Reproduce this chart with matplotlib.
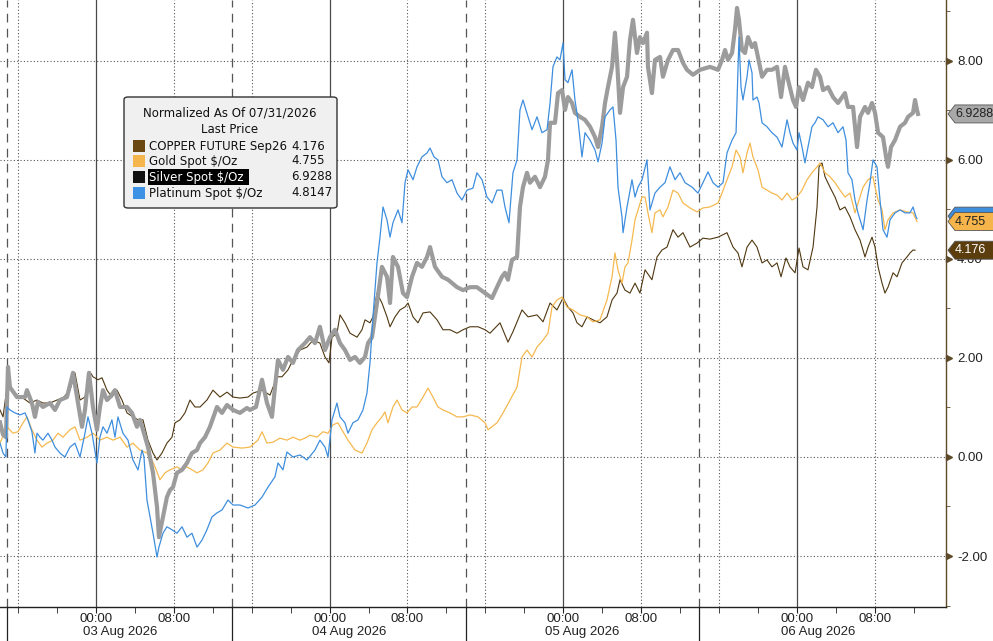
import matplotlib
matplotlib.use("Agg")
import matplotlib.pyplot as plt
import matplotlib.transforms as mtransforms
from matplotlib.patches import Polygon, FancyBboxPatch, Rectangle

# hours since 03 Aug 2026 00:00, values normalized as of 07/31/2026
copper_hours = [-9.86, -9.55, -9.14, -8.63, -8.12, -7.50, -6.78, -6.06, -5.45, -4.73, -4.01, -3.39, -2.67, -2.16,
                -1.64, -1.13, -0.62, -0.31, 0.21, 0.62, 1.13, 1.64, 2.16, 2.67, 3.19, 3.80, 4.32, 4.83, 5.34, 5.86,
                6.27, 6.78, 7.29, 7.81, 8.12, 8.63, 9.14, 9.66, 10.17, 10.69, 11.40, 12.02, 12.74, 13.46, 14.08,
                14.79, 15.62, 16.13, 17.06, 17.88, 18.60, 19.11, 19.73, 20.24, 20.96, 21.68, 22.30, 23.01, 23.53,
                23.94, 24.25, 24.76, 25.07, 25.58, 26.10, 26.82, 27.33, 27.64, 28.15, 28.46, 28.87, 29.38, 29.90,
                30.21, 30.72, 31.23, 31.75, 32.06, 32.57, 33.08, 33.60, 34.32, 35.04, 35.65, 36.37, 37.09, 37.71,
                38.43, 39.25, 39.97, 40.48, 41.51, 42.33, 42.84, 43.77, 44.39, 45.31, 45.93, 46.65, 47.36, 47.98,
                48.49, 49.01, 49.42, 49.93, 50.45, 51.06, 51.78, 52.50, 53.02, 53.53, 53.84, 54.35, 54.86, 55.38,
                55.89, 56.41, 57.12, 57.64, 58.15, 58.67, 59.28, 59.80, 60.31, 61.03, 61.75, 62.36, 63.08, 63.91,
                64.83, 65.45, 65.96, 66.37, 66.89, 67.40, 67.91, 68.43, 68.94, 69.45, 69.97, 70.38, 70.89, 71.30,
                71.82, 72.23, 72.64, 73.15, 73.67, 74.08, 74.28, 74.59, 74.90, 75.41, 75.93, 76.44, 76.95, 77.47,
                77.98, 78.50, 79.01, 79.32, 79.73, 80.04, 80.35, 80.76, 81.06, 81.37, 81.89, 82.30, 82.81, 83.32,
                83.63, 83.94, 84.15]
copper_vals = [0.95, 0.81, 1.41, 1.35, 1.25, 1.19, 1.09, 1.15, 1.09, 1.09, 1.15, 1.19, 1.35, 1.70,
               1.15, 1.21, 1.72, 1.62, 1.56, 1.60, 1.35, 1.21, 1.35, 1.15, 0.89, 0.81, 0.75, 0.75, 0.34, 0.08,
               -0.06, 0.08, 0.28, 0.40, 0.69, 0.75, 0.89, 1.15, 1.01, 1.01, 1.15, 1.35, 1.21, 1.31, 1.21,
               1.19, 1.21, 1.29, 1.35, 1.25, 1.62, 1.62, 1.76, 1.96, 2.16, 2.22, 2.36, 2.30, 2.02,
               1.90, 2.42, 2.50, 2.87, 2.71, 2.50, 2.42, 2.57, 2.77, 2.71, 2.83, 3.31, 3.11, 2.83,
               2.63, 2.83, 2.97, 3.03, 3.11, 2.83, 2.71, 2.91, 2.93, 2.77, 2.57, 2.57, 2.50, 2.57,
               2.63, 2.63, 2.57, 2.50, 2.71, 2.32, 2.53, 2.97, 2.83, 2.87, 2.73, 3.11, 2.97, 3.21,
               3.03, 2.91, 2.71, 2.63, 2.83, 2.77, 2.71, 2.83, 3.17, 3.31, 3.58, 3.37, 3.31, 3.51,
               3.31, 3.78, 3.58, 4.04, 4.18, 4.24, 4.59, 4.44, 4.53, 4.24, 4.32, 4.42, 4.40, 4.44,
               4.53, 4.24, 4.12, 3.84, 4.24, 4.38, 4.24, 3.92, 3.98, 3.84, 3.92, 3.64, 4.02, 3.84,
               3.72, 4.22, 3.84, 3.78, 4.24, 5.05, 5.86, 5.94, 5.66, 5.45, 5.25, 4.99, 5.05, 4.85,
               4.59, 4.38, 4.04, 4.24, 4.44, 4.24, 3.84, 3.51, 3.31, 3.43, 3.72, 3.64, 3.92, 4.04,
               4.12, 4.18, 4.176]

gold_hours = [-9.86, -9.14, -8.53, -8.01, -7.50, -7.09, -6.58, -6.06, -5.55, -5.03, -4.42, -3.90, -3.39, -2.67,
              -2.16, -1.64, -0.92, -0.31, 0.41, 1.13, 1.75, 2.47, 3.19, 3.80, 4.52, 5.24, 5.75, 6.06, 6.58, 7.09,
              7.60, 8.32, 8.84, 9.35, 9.86, 10.38, 10.99, 11.51, 12.02, 12.74, 13.46, 14.08, 15.00, 15.82, 16.64,
              17.06, 17.57, 18.19, 18.90, 19.62, 20.24, 20.96, 21.47, 21.99, 22.71, 23.32, 23.84, 24.35, 24.86,
              25.38, 25.89, 26.61, 27.33, 27.84, 28.36, 28.87, 29.38, 29.69, 30.00, 30.51, 30.93, 31.44, 31.95,
              32.47, 32.98, 33.60, 34.11, 34.62, 35.14, 35.65, 36.37, 37.09, 37.71, 38.43, 39.25, 39.97, 40.28,
              41.20, 41.82, 42.54, 43.26, 43.77, 44.28, 44.80, 45.31, 45.93, 46.44, 46.85, 47.36, 47.88, 48.39,
              49.01, 49.73, 50.45, 51.06, 51.78, 52.50, 53.02, 53.32, 53.63, 54.04, 54.35, 54.66, 55.07, 55.38,
              55.69, 56.10, 56.41, 56.71, 57.12, 57.43, 57.95, 58.25, 58.77, 59.28, 59.80, 60.31, 61.03, 61.75,
              62.36, 63.08, 63.91, 64.32, 64.83, 65.35, 65.76, 66.17, 66.47, 66.89, 67.19, 67.50, 68.01, 68.43,
              68.94, 69.45, 69.97, 70.48, 71.00, 71.51, 72.02, 72.54, 73.05, 73.56, 74.08, 74.39, 74.90, 75.41,
              75.93, 76.44, 76.95, 77.47, 77.98, 78.39, 78.81, 79.32, 79.83, 80.04, 80.35, 80.76, 81.06, 81.37,
              81.89, 82.61, 83.32, 83.94, 84.35]
gold_vals = [0.28, 0.61, 0.48, 0.51, 0.69, 0.81, 0.55, 0.34, 0.20, 0.28, 0.34, 0.48, 0.40, 0.55,
             0.61, 0.34, 0.40, 0.48, 0.34, 0.40, 0.34, 0.40, 0.20, 0.28, 0.14, 0.08, -0.06, -0.20, -0.46, -0.32,
             -0.26, -0.20, -0.26, -0.20, -0.26, -0.32, -0.26, -0.12, 0.08, 0.14, 0.28, 0.20, 0.18, 0.20, 0.34,
             0.51, 0.28, 0.30, 0.38, 0.34, 0.40, 0.34, 0.38, 0.44, 0.40, 0.51, 0.48, 0.65, 0.69,
             0.51, 0.34, 0.14, 0.08, 0.28, 0.55, 0.69, 0.81, 0.91, 0.69, 1.01, 1.15, 0.95, 0.89,
             1.01, 1.01, 1.21, 1.39, 1.21, 1.01, 0.95, 0.89, 0.81, 0.81, 0.85, 0.81, 0.69, 0.55,
             0.69, 0.89, 1.15, 1.41, 2.02, 2.16, 2.02, 2.22, 2.36, 2.50, 3.03, 3.17, 3.23, 3.03,
             2.97, 2.87, 2.83, 2.73, 2.77, 3.17, 3.64, 4.12, 3.78, 3.51, 3.84, 3.92, 4.38, 4.79,
             4.99, 5.25, 5.25, 4.93, 4.53, 4.93, 4.99, 4.85, 5.05, 5.39, 5.33, 5.13, 5.03, 4.95,
             5.03, 5.05, 5.13, 5.33, 5.60, 5.86, 6.20, 6.06, 5.74, 6.14, 6.34, 6.06, 5.80, 5.45,
             5.39, 5.33, 5.29, 5.19, 5.33, 5.19, 5.25, 5.39, 5.60, 5.74, 5.86, 5.94, 5.74, 5.66,
             5.54, 5.39, 5.25, 5.33, 4.93, 5.19, 5.45, 5.60, 5.66, 5.45, 5.19, 4.99, 4.59, 4.79,
             4.93, 4.99, 4.95, 4.93, 4.755]

silver_hours = [-9.86, -9.55, -9.25, -9.04, -8.84, -8.12, -7.29, -7.09, -6.58, -6.27, -5.96, -5.45, -4.73, -4.21,
                -3.70, -2.98, -2.36, -1.95, -1.44, -1.13, -0.72, -0.31, 0.10, 0.41, 0.72, 1.13, 1.44, 1.95, 2.47,
                3.19, 3.70, 4.21, 4.52, 4.83, 5.34, 5.86, 6.27, 6.47, 6.88, 7.29, 7.60, 7.91, 8.32, 8.84, 9.35,
                9.86, 10.38, 10.69, 11.20, 11.71, 12.43, 12.95, 13.46, 14.08, 14.79, 15.51, 15.82, 16.44, 17.06,
                17.57, 18.08, 18.39, 18.70, 19.21, 19.73, 20.24, 20.75, 21.47, 21.99, 22.50, 23.01, 23.53, 24.04,
                24.56, 25.07, 25.58, 26.10, 26.61, 27.12, 27.64, 27.95, 28.36, 28.87, 29.38, 29.90, 30.21, 30.51,
                31.03, 31.54, 31.95, 32.47, 32.98, 33.49, 34.01, 34.32, 34.83, 35.55, 36.17, 37.09, 37.71, 38.43,
                39.14, 39.97, 40.69, 41.20, 41.71, 42.02, 42.33, 42.74, 43.26, 43.56, 43.87, 44.28, 44.59, 45.10,
                45.62, 46.13, 46.44, 46.65, 47.16, 47.47, 47.88, 48.19, 48.49, 48.91, 49.21, 49.73, 50.24, 50.76,
                51.27, 51.58, 51.99, 52.30, 52.60, 53.02, 53.32, 53.53, 53.84, 54.15, 54.56, 54.86, 55.17, 55.38,
                55.58, 55.89, 56.20, 56.61, 56.71, 57.12, 57.43, 57.95, 58.25, 58.77, 59.28, 59.80, 60.31, 60.72,
                61.34, 62.06, 63.08, 63.91, 64.32, 64.63, 64.93, 65.35, 65.65, 65.86, 66.06, 66.37, 66.68, 66.99,
                67.40, 67.71, 68.01, 68.43, 68.94, 69.45, 69.97, 70.38, 70.79, 71.10, 71.61, 71.92, 72.23, 72.64,
                73.15, 73.56, 73.97, 74.39, 74.70, 75.21, 75.72, 76.24, 76.95, 77.26, 77.78, 78.19, 78.50, 79.01,
                79.32, 79.73, 80.04, 80.35, 80.86, 81.17, 81.37, 81.68, 82.09, 82.61, 83.12, 83.43, 83.94, 84.15,
                84.35, 84.45]
silver_vals = [0.70, 0.45, 0.40, 1.82, 1.41, 1.21, 1.21, 1.35, 1.09, 0.81, 1.11, 1.01, 1.09, 0.95,
               1.15, 1.21, 1.70, 1.21, 0.61, 0.95, 1.70, 1.01, 0.55, 1.01, 1.35, 1.15, 1.21, 1.35, 1.01,
               1.01, 0.89, 0.61, 0.75, 0.55, 0.20, -0.32, -1.01, -1.62, -1.21, -0.81, -0.67, -0.61, -0.32, -0.26, -0.12,
               0.08, 0.14, 0.28, 0.40, 0.61, 1.01, 0.89, 1.05, 0.95, 0.89, 0.99, 0.95, 1.01, 1.56,
               1.09, 0.81, 1.41, 1.96, 1.76, 2.02, 1.90, 2.16, 2.30, 2.42, 2.30, 2.63, 2.16, 2.42,
               2.57, 2.30, 2.16, 1.96, 2.02, 1.90, 2.02, 2.30, 2.42, 3.11, 3.84, 3.64, 3.11, 4.04,
               3.84, 3.31, 3.23, 3.64, 3.92, 3.84, 4.04, 4.24, 3.84, 3.64, 3.58, 3.43, 3.37, 3.43,
               3.43, 3.31, 3.21, 3.43, 3.64, 3.72, 3.58, 3.98, 4.04, 5.05, 5.45, 5.74, 5.54, 5.66,
               5.45, 5.66, 6.00, 6.75, 6.75, 7.35, 7.41, 7.01, 7.27, 7.15, 6.95, 6.87, 6.81, 6.67,
               6.46, 6.26, 6.67, 7.15, 7.47, 7.88, 8.57, 8.02, 6.95, 7.47, 7.68, 8.42, 8.83, 8.48,
               8.16, 8.48, 8.36, 8.57, 7.88, 7.35, 8.02, 8.08, 7.68, 8.02, 8.22, 8.22, 7.96, 7.82,
               7.72, 7.82, 7.88, 7.82, 8.02, 8.22, 8.02, 8.16, 8.63, 9.07, 8.83, 8.22, 8.16, 8.48,
               8.28, 8.36, 8.08, 7.68, 7.82, 7.82, 7.88, 7.27, 7.88, 7.62, 7.21, 7.07, 7.47, 7.21,
               7.56, 7.47, 7.82, 7.68, 7.41, 7.47, 7.27, 7.15, 7.35, 7.07, 7.07, 6.26, 6.87, 7.07,
               6.95, 7.15, 6.95, 6.55, 6.46, 6.06, 5.86, 6.26, 6.40, 6.67, 6.75, 6.87, 6.95, 7.21,
               7.01, 6.9288]

platinum_hours = [-9.86, -9.55, -9.25, -9.14, -8.84, -8.32, -7.81, -7.29, -6.99, -6.58, -6.27, -6.06, -5.75, -5.45,
                  -4.93, -4.52, -4.21, -3.70, -3.19, -2.67, -2.16, -1.64, -1.13, -0.82, -0.41, 0.10, 0.41, 0.72,
                  1.13, 1.64, 1.95, 2.26, 2.77, 3.29, 3.80, 4.32, 4.73, 4.93, 5.24, 5.55, 5.86, 6.27, 6.47, 6.88,
                  7.29, 7.81, 8.32, 8.84, 9.35, 9.86, 10.38, 10.89, 11.40, 11.92, 12.43, 12.95, 13.56, 14.08,
                  14.79, 15.62, 16.34, 17.06, 17.67, 18.39, 18.70, 19.21, 19.62, 20.24, 20.96, 21.68, 22.50, 23.01,
                  23.53, 23.84, 24.25, 24.76, 25.07, 25.58, 25.89, 26.40, 26.92, 27.43, 27.84, 28.15, 28.46, 28.87,
                  29.18, 29.49, 29.90, 30.21, 30.51, 31.03, 31.44, 31.75, 32.06, 32.57, 32.98, 33.49, 34.01, 34.32,
                  34.73, 35.14, 35.55, 36.06, 36.58, 37.09, 37.60, 38.12, 38.73, 39.14, 39.66, 40.17, 40.69, 41.20,
                  41.71, 42.02, 42.43, 42.84, 43.26, 43.56, 43.87, 44.39, 44.80, 45.31, 45.82, 46.34, 46.65, 46.95,
                  47.36, 47.67, 47.98, 48.19, 48.49, 48.91, 49.21, 49.52, 49.93, 50.24, 50.76, 51.27, 51.58, 51.99,
                  52.30, 52.81, 53.12, 53.43, 53.63, 54.04, 54.15, 54.56, 55.07, 55.38, 55.69, 56.10, 56.61, 56.92,
                  57.43, 57.95, 58.46, 58.97, 59.49, 60.00, 60.52, 61.24, 61.85, 62.36, 62.88, 63.39, 63.91, 64.42,
                  64.83, 65.35, 65.76, 65.96, 66.06, 66.27, 66.47, 66.89, 67.09, 67.40, 67.50, 67.91, 68.12, 68.43,
                  68.94, 69.45, 69.97, 70.48, 71.00, 71.30, 71.61, 72.02, 72.23, 72.54, 72.84, 73.15, 73.56, 73.87,
                  74.18, 74.70, 75.21, 75.72, 76.24, 76.75, 77.06, 77.26, 77.67, 77.98, 78.29, 78.81, 79.22, 79.52,
                  79.83, 80.24, 80.55, 80.86, 81.27, 81.58, 82.09, 82.61, 83.12, 83.63, 83.94, 84.25, 84.35]
platinum_vals = [0.28, 0.08, 0.00, 1.01, 0.95, 0.89, 0.85, 0.89, 0.75, 0.51, 0.08, 0.48, 0.40, 0.34,
                 0.48, 0.34, 0.20, 0.08, 0.00, 0.20, 0.28, 0.00, 0.48, 0.81, 0.48, -0.12, 0.40, 0.61,
                 0.48, 0.75, 0.40, 0.81, 0.48, 0.34, -0.06, -0.26, 0.14, 0.00, -0.87, -1.21, -1.54, -2.02, -1.82, -1.54,
                 -1.41, -1.47, -1.54, -1.41, -1.62, -1.54, -1.82, -1.68, -1.47, -1.21, -1.13, -1.07, -0.87, -0.97,
                 -0.97, -1.03, -0.97, -0.81, -0.61, -0.40, -0.12, -0.26, 0.10, 0.00, 0.04, -0.06, 0.14, 0.34,
                 0.20, 0.00, 0.75, 1.09, 0.81, 0.69, 0.48, 0.69, 0.75, 0.95, 1.29, 1.90, 2.83, 3.92,
                 4.44, 5.05, 4.79, 4.44, 4.73, 4.99, 4.73, 5.54, 5.80, 5.60, 5.86, 6.06, 6.14, 6.24,
                 6.06, 6.00, 5.66, 5.54, 5.60, 5.33, 5.19, 5.39, 5.43, 5.74, 5.60, 5.25, 5.13, 5.39,
                 5.39, 5.05, 4.73, 5.74, 6.00, 7.01, 7.21, 6.87, 6.61, 6.87, 6.55, 6.61, 7.15, 7.88,
                 8.08, 8.02, 8.36, 7.62, 7.56, 7.82, 7.21, 6.81, 6.06, 6.55, 6.40, 6.20, 5.96, 6.34,
                 6.87, 7.01, 7.07, 6.40, 5.45, 4.85, 4.53, 5.05, 5.60, 5.25, 5.45, 5.60, 6.00, 4.99,
                 5.33, 5.45, 5.54, 5.86, 5.60, 5.74, 5.54, 5.45, 5.33, 5.54, 5.76, 5.54, 5.45, 5.54,
                 6.14, 6.40, 6.55, 7.88, 8.48, 7.47, 7.21, 7.68, 8.02, 7.76, 7.21, 7.27, 7.15, 6.75,
                 6.67, 6.55, 6.46, 6.26, 6.81, 6.55, 6.34, 6.20, 6.55, 6.26, 5.94, 6.26, 6.67, 6.75,
                 6.87, 6.81, 6.67, 6.75, 6.55, 6.67, 6.40, 5.74, 5.60, 5.19, 4.93, 4.59, 5.19, 5.54,
                 6.00, 5.86, 5.19, 4.59, 4.44, 4.79, 4.93, 4.99, 4.93, 4.93, 5.05, 4.85, 4.8147]

series_names = ["COPPER FUTURE Sep26", "Gold Spot $/Oz", "Silver Spot $/Oz", "Platinum Spot $/Oz"]
last_prices = ["4.176", "4.755", "6.9288", "4.8147"]
colors = ["#4f3710", "#f5b94f", "#9c9c9c", "#3e8ede"]
legend_colors = ["#6b4712", "#f5b64e", "#111111", "#3e92e6"]

ytick_vals = [-2, 0, 2, 4, 6, 8]
day_labels = ["03 Aug 2026", "04 Aug 2026", "05 Aug 2026", "06 Aug 2026"]
session_breaks = [-9.1, 14.0, 38.0, 62.0, 86.5]

AXFONT = "Liberation Sans"
W, H = 993, 641
fig = plt.figure(figsize=(W / 100, H / 100), dpi=100)
ax = fig.add_axes([0, (H - 607) / H, 946 / W, 607 / H])
ax.set_xlim(-9.86, 87.33)
ax.set_ylim(-3.03, 9.23)

grid_c = "#555555"
for v in ytick_vals:
    ax.axhline(v, color=grid_c, lw=0.8, ls=(0, (1, 2)), zorder=1)
for h in range(-8, 88, 8):
    if h % 24 == 0:
        ax.axvline(h, color="#4a4a4a", lw=0.9, zorder=1)
    else:
        ax.axvline(h, color=grid_c, lw=0.8, ls=(0, (1, 2)), zorder=1)
for h in session_breaks[:-1]:
    ax.axvline(h, color="#555555", lw=0.9, ls=(0, (7, 5)), zorder=1)

ax.plot(copper_hours, copper_vals, color=colors[0], lw=0.8, zorder=3)
ax.plot(gold_hours, gold_vals, color=colors[1], lw=0.9, zorder=3)
ax.plot(silver_hours, silver_vals, color=colors[2], lw=3.0, zorder=4, solid_joinstyle="round")
ax.plot(platinum_hours, platinum_vals, color=colors[3], lw=0.9, zorder=5)

# axes / spines
for s in ["left", "top"]:
    ax.spines[s].set_visible(False)
ax.spines["right"].set_color("#5e4a28")
ax.spines["right"].set_linewidth(1.0)
ax.spines["bottom"].set_color("#222222")
ax.spines["bottom"].set_linewidth(1.0)

ax.yaxis.tick_right()
ax.set_yticks(ytick_vals)
ax.set_yticklabels([f"{v:.2f}" for v in ytick_vals], fontsize=9.5, color="#222222", family=AXFONT)
ax.set_yticks([-3, -1, 1, 3, 5, 7, 9], minor=True)
ax.tick_params(axis="y", which="major", length=0, pad=8)
ax.tick_params(axis="y", which="minor", length=3, color="#5e4a28", direction="out")
ybl = mtransforms.blended_transform_factory(ax.transAxes, ax.transData)
ax.plot([1.0 + 3 / 946] * len(ytick_vals), ytick_vals, ls="none", marker=">", ms=5,
        color="#5e4a28", transform=ybl, clip_on=False, zorder=6)

major_x = [0, 8, 24, 32, 48, 56, 72, 80]
ax.set_xticks(major_x)
ax.set_xticklabels(["00:00" if h % 24 == 0 else "08:00" for h in major_x], fontsize=9.5, color="#222222",
                   family=AXFONT)
ax.set_xticks(list(range(-8, 88, 4)), minor=True)
ax.tick_params(axis="x", which="both", length=4, color="#222222", pad=0)

xbl = mtransforms.blended_transform_factory(ax.transData, ax.transAxes)
for h in session_breaks[:-1]:
    ax.plot([h, h], [0, -34 / 607], color="#222222", lw=0.9, transform=xbl, clip_on=False)
for i, lab in enumerate(day_labels):
    mid = (session_breaks[i] + min(session_breaks[i + 1], 87.33)) / 2
    ax.text(mid, -25 / 607, lab, transform=xbl, ha="center", va="center", fontsize=9.5, color="#222222",
            family=AXFONT)


# last price tags on the right axis
def px2fig(x, y):
    return x / W, 1 - y / H


def draw_tag(value, text, face, tcolor):
    ypix = ax.transData.transform((0, value))[1]
    y = H - ypix
    pts = [(948, y), (955, y - 9), (995, y - 9), (995, y + 9), (955, y + 9)]
    poly = Polygon([px2fig(*p) for p in pts], closed=True, transform=fig.transFigure,
                   facecolor=face, edgecolor="#555555", lw=0.6, zorder=5)
    fig.patches.append(poly)
    fx, fy = px2fig(955, y)
    fig.text(fx, fy, text, ha="left", va="center", fontsize=9, color=tcolor, zorder=6, family=AXFONT)


draw_tag(float(last_prices[2]), last_prices[2], "#a8a8a8", "#222222")
draw_tag(float(last_prices[3]) + 0.05, "", colors[3], "#222222")
draw_tag(float(last_prices[1]), last_prices[1], "#f5b54a", "#222222")
draw_tag(float(last_prices[0]), last_prices[0], "#5c3d0e", "#ffffff")

# legend box
lx0, ly0, lx1, ly1 = 124, 97, 337, 208
box = FancyBboxPatch(px2fig(lx0, ly1), (lx1 - lx0) / W, (ly1 - ly0) / H,
                     boxstyle="round,pad=0,rounding_size=0.004", transform=fig.transFigure,
                     facecolor="#f0f0f0", edgecolor="#333333", lw=1.0, zorder=5)
fig.patches.append(box)
fig.text(*px2fig(230, 113), "Normalized As Of 07/31/2026", ha="center", va="center", fontsize=8.5,
         color="#111111", zorder=6)
fig.text(*px2fig(230, 130), "Last Price", ha="center", va="center", fontsize=8.5, color="#111111", zorder=6)
row_y = [146, 161, 177, 193]
for i, name in enumerate(series_names):
    y = row_y[i]
    sq = Rectangle(px2fig(133, y + 6), 12 / W, 12 / H, transform=fig.transFigure,
                   facecolor=legend_colors[i], edgecolor="none", zorder=6)
    fig.patches.append(sq)
    tcol = "#111111"
    if i == 2:
        hl = Rectangle(px2fig(148, y + 8), 101 / W, 16 / H, transform=fig.transFigure,
                       facecolor="#000000", edgecolor="none", zorder=6)
        fig.patches.append(hl)
        tcol = "#ffffff"
    fig.text(*px2fig(149, y), name, ha="left", va="center", fontsize=8.5, color=tcol, zorder=7)
    fig.text(*px2fig(291, y), last_prices[i], ha="left", va="center", fontsize=8.5, color="#111111", zorder=7)

fig.savefig("out.png", dpi=100)
